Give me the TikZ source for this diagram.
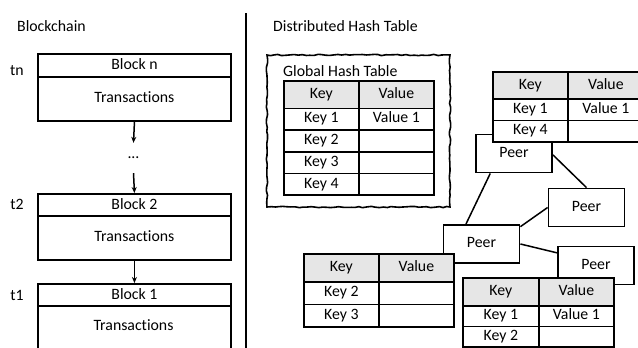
\documentclass[tikz,border=0pt]{standalone}
\usepackage{fontspec}
\setmainfont[Ligatures=NoCommon]{Carlito}
\usetikzlibrary{arrows.meta,decorations.pathmorphing,calc}
\definecolor{hdrgray}{RGB}{230,230,230}
\tikzset{
  fnt/.style={font=\fontsize{15.8}{18}\selectfont},
  tbox/.style={text height=0.86em, text depth=0.12em},
  lbl/.style={fnt, inner sep=0pt},
  cell/.style={draw, line width=1.8pt, fill=white, inner sep=0pt, anchor=north west, fnt, tbox},
  hcell/.style={cell, fill=hdrgray},
  blkhead/.style={draw, line width=1.9pt, fill=white, inner sep=0pt, anchor=north west, minimum width=193pt, minimum height=23pt, fnt, tbox},
  blkbody/.style={draw, line width=1.9pt, fill=white, inner sep=0pt, anchor=north west, minimum width=193pt, minimum height=44pt, fnt, tbox},
  peer/.style={draw, line width=1.8pt, fill=white, inner sep=0pt, minimum width=76pt, minimum height=38pt, fnt, tbox},
  link/.style={line width=1.5pt},
  chain/.style={line width=1.5pt, -{Stealth[length=6pt,width=5pt]}},
  wavy/.style={draw, line width=1.6pt, decorate, decoration={random steps, segment length=4pt, amplitude=0.7pt}}
}
% table: prefix, x, y(top), w1, w2, header h, row h, rows as key/value list
\newcommand{\kvtable}[8]{%
  \node[hcell, minimum width=#4pt, minimum height=#6pt] (#1h1) at (#2,#3) {Key};
  \node[hcell, minimum width=#5pt, minimum height=#6pt] (#1h2) at (#2+#4,#3) {Value};
  \foreach \k/\v [count=\i] in {#8} {
    \node[cell, minimum width=#4pt, minimum height=#7pt] (#1k\i) at (#2,#3+#6+#7*\i-#7) {\k};
    \node[cell, minimum width=#5pt, minimum height=#7pt] (#1v\i) at (#2+#4,#3+#6+#7*\i-#7) {\v};
  }%
}
\begin{document}
\begin{tikzpicture}[x=1pt,y=-1pt]
\useasboundingbox (0,0) rectangle (638,348);
\clip (0,0) rectangle (638,348);
\fill[white] (0,0) rectangle (638,348);

% ---- Blockchain side
\node[lbl, anchor=west] (bctitle) at (17,26) {Blockchain};
\node[lbl] (tn) at (17,71) {tn};
\node[lbl] (t2) at (17,204) {t2};
\node[lbl] (t1) at (17,295) {t1};

\node[blkhead] (bnh) at (37,53) {Block n};
\node[blkbody] (bnb) at (37,76) {Transactions};
\node[lbl, minimum height=30pt] (dots) at (133.5,158) {...};
\node[blkhead] (b2h) at (37,193) {Block 2};
\node[blkbody] (b2b) at (37,215) {Transactions};
\node[blkhead] (b1h) at (37,283) {Block 1};
\node[blkbody, minimum height=48pt] (b1b) at (37,305) {};
\node[lbl, tbox] (b1t) at (133.5,327) {Transactions};

\draw[chain] (bnb.south) -- (dots.north);
\draw[chain] (dots.south) -- (b2h.north);
\draw[chain] (b2b.south) -- (b1h.north);

% divider
\coordinate (divtop) at (246,13);
\coordinate (divbot) at (246,352);
\draw[line width=2pt] (divtop) -- (divbot);

% ---- DHT side
\node[lbl, anchor=west] (dhttitle) at (273,26) {Distributed Hash Table};
\draw[wavy] (267,55) rectangle (450,207);
\node[lbl, anchor=west] (ghttitle) at (283,71) {Global Hash Table};
\kvtable{g}{283}{80}{75}{75}{27.5}{21.7}{Key 1/Value 1, Key 2/, Key 3/, Key 4/}

% peers
\node[peer] (pA) at (514,153.5) {Peer};
\node[peer] (pB) at (586.5,207.5) {Peer};
\node[peer] (pC) at (481.5,244) {Peer};
\node[peer] (pD) at (596,265.5) {Peer};

\draw[link] (pA.220) -- (pC.128);
\draw[link] (pA.-2) -- (pB.north);
\draw[link] (pC.24) -- (pB.west);
\draw[link] (pC.east) -- (pD.162);

% local tables
\kvtable{t}{492}{71}{75}{76}{27}{21.5}{Key 1/Value 1, Key 4/}
\kvtable{l}{303}{253}{75}{75}{28}{22.5}{Key 2/, Key 3/}
\kvtable{r}{462}{277}{76}{75}{28}{20.5}{Key 1/Value 1, Key 2/}
\end{tikzpicture}
\end{document}
